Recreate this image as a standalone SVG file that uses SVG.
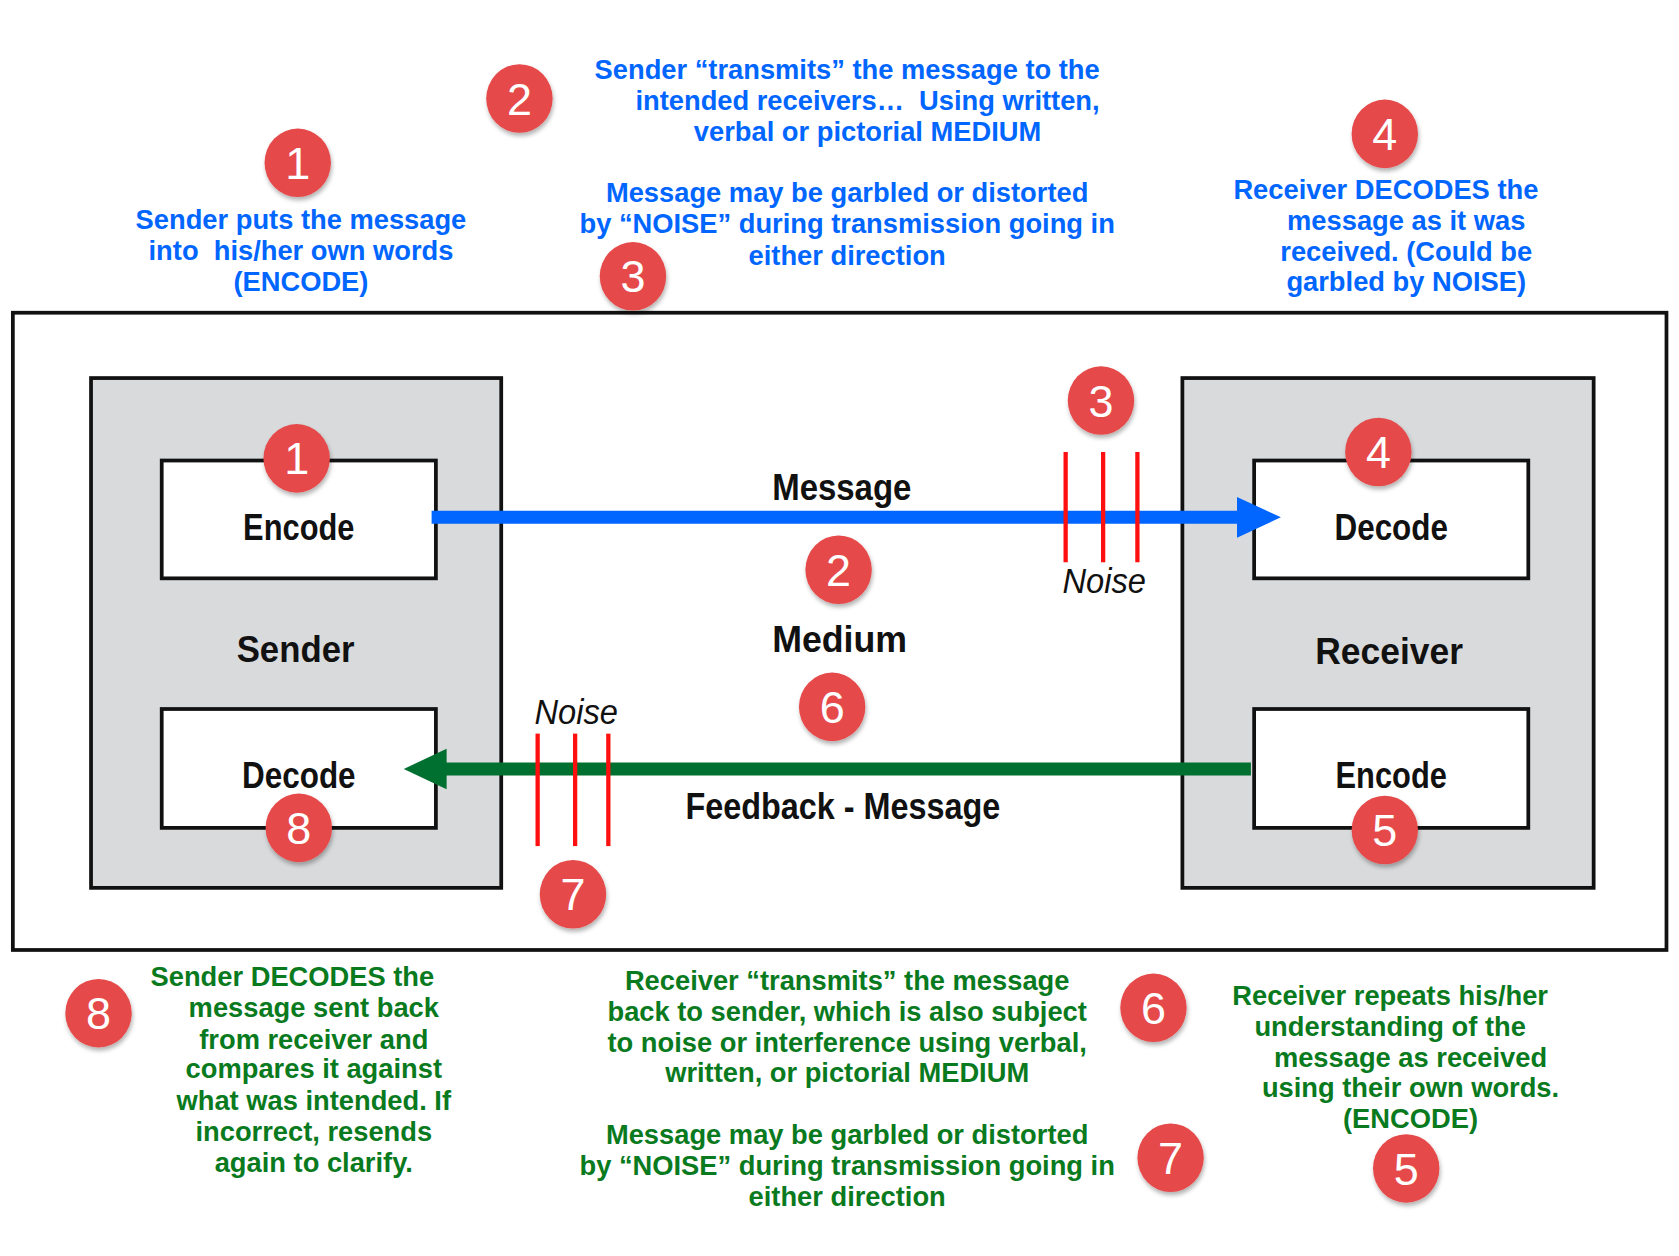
<svg xmlns="http://www.w3.org/2000/svg" width="1679" height="1256" viewBox="0 0 1679 1256">
<style>
.box{stroke:#111;stroke-width:3.5}
.lbl{font-family:"Liberation Sans",Arial,sans-serif;font-weight:bold;font-size:34px;fill:#111;text-anchor:middle}
.noise{font-family:"Liberation Sans",Arial,sans-serif;font-style:italic;font-size:32px;fill:#111;text-anchor:middle}
.b{font-family:"Liberation Sans",Arial,sans-serif;font-weight:bold;font-size:25.5px;fill:#0066ff;text-anchor:middle}
.g{font-family:"Liberation Sans",Arial,sans-serif;font-weight:bold;font-size:25.5px;fill:#0a7a1e;text-anchor:middle}
.c text{font-family:"Liberation Sans",Arial,sans-serif;font-size:42px;fill:#fff;text-anchor:middle}
.r{stroke:#ff1010;stroke-width:4}
</style>
<defs>
<filter id="sh" x="-30%" y="-30%" width="160%" height="160%"><feDropShadow dx="1" dy="3" stdDeviation="2" flood-color="#000" flood-opacity="0.3"/></filter>
<ellipse id="circ" cx="0" cy="0" rx="31" ry="32" fill="#e54848" filter="url(#sh)"/>
</defs>
<rect width="1679" height="1256" fill="#fff"/>
<g transform="scale(1.071,1.071)">
<rect id="outer" x="12" y="292" width="1544" height="595" fill="#fff" class="box"/>
<g id="sender"><rect x="85" y="353" width="383" height="476" fill="#d9dadc" class="box"/><text class="lbl" x="276" y="618" textLength="110" lengthAdjust="spacingAndGlyphs">Sender</text></g>
<g id="sender-encode"><rect x="151" y="430" width="256" height="110" fill="#fff" class="box"/><text class="lbl" x="279" y="504" textLength="104" lengthAdjust="spacingAndGlyphs">Encode</text></g>
<g id="sender-decode"><rect x="151" y="662" width="256" height="111" fill="#fff" class="box"/><text class="lbl" x="279" y="736" textLength="106" lengthAdjust="spacingAndGlyphs">Decode</text></g>
<g id="receiver"><rect x="1104" y="353" width="384" height="476" fill="#d9dadc" class="box"/><text class="lbl" x="1297" y="620" textLength="138" lengthAdjust="spacingAndGlyphs">Receiver</text></g>
<g id="receiver-decode"><rect x="1171" y="430" width="256" height="110" fill="#fff" class="box"/><text class="lbl" x="1299" y="504" textLength="106" lengthAdjust="spacingAndGlyphs">Decode</text></g>
<g id="receiver-encode"><rect x="1171" y="662" width="256" height="111" fill="#fff" class="box"/><text class="lbl" x="1299" y="736" textLength="104" lengthAdjust="spacingAndGlyphs">Encode</text></g>
<g id="connectors">
<line x1="403" y1="483" x2="1160" y2="483" stroke="#0066ff" stroke-width="12"/>
<polygon points="1155,464 1196,483 1155,502" fill="#0066ff"/>
<line x1="1168" y1="718" x2="412" y2="718" stroke="#007030" stroke-width="12"/>
<polygon points="417,699 377,718 417,737" fill="#007030"/>
</g>
<text class="lbl" x="786" y="467" textLength="130" lengthAdjust="spacingAndGlyphs">Message</text>
<text class="lbl" x="784" y="609" textLength="126" lengthAdjust="spacingAndGlyphs">Medium</text>
<text class="lbl" x="787" y="765" textLength="294" lengthAdjust="spacingAndGlyphs">Feedback - Message</text>
<g id="noise1"><line class="r" x1="995" y1="422" x2="995" y2="525"/><line class="r" x1="1030" y1="422" x2="1030" y2="525"/><line class="r" x1="1062" y1="422" x2="1062" y2="525"/><text class="noise" x="1031" y="554" textLength="78" lengthAdjust="spacingAndGlyphs">Noise</text></g>
<g id="noise2"><line class="r" x1="502" y1="685" x2="502" y2="790"/><line class="r" x1="537" y1="685" x2="537" y2="790"/><line class="r" x1="568" y1="685" x2="568" y2="790"/><text class="noise" x="538" y="676" textLength="78" lengthAdjust="spacingAndGlyphs">Noise</text></g>
<g class="c">
<g transform="translate(278,152)"><use href="#circ"/><text y="15">1</text></g>
<g transform="translate(485,92)"><use href="#circ"/><text y="15">2</text></g>
<g transform="translate(591,258)"><use href="#circ"/><text y="15">3</text></g>
<g transform="translate(1293,125)"><use href="#circ"/><text y="15">4</text></g>
<g transform="translate(277,428)"><use href="#circ"/><text y="15">1</text></g>
<g transform="translate(1028,374)"><use href="#circ"/><text y="15">3</text></g>
<g transform="translate(1287,422)"><use href="#circ"/><text y="15">4</text></g>
<g transform="translate(783,532)"><use href="#circ"/><text y="15">2</text></g>
<g transform="translate(777,660)"><use href="#circ"/><text y="15">6</text></g>
<g transform="translate(279,773)"><use href="#circ"/><text y="15">8</text></g>
<g transform="translate(1293,775)"><use href="#circ"/><text y="15">5</text></g>
<g transform="translate(535,835)"><use href="#circ"/><text y="15">7</text></g>
<g transform="translate(92,946)"><use href="#circ"/><text y="15">8</text></g>
<g transform="translate(1077,941)"><use href="#circ"/><text y="15">6</text></g>
<g transform="translate(1093,1081)"><use href="#circ"/><text y="15">7</text></g>
<g transform="translate(1313,1091)"><use href="#circ"/><text y="15">5</text></g>
</g>
<text class="b" x="281" y="214">Sender puts the message</text>
<text class="b" x="281" y="243" xml:space="preserve">into  his/her own words</text>
<text class="b" x="281" y="272">(ENCODE)</text>
<text class="b" x="791" y="74">Sender “transmits” the message to the</text>
<text class="b" x="810" y="103" xml:space="preserve">intended receivers…  Using written,</text>
<text class="b" x="810" y="132">verbal or pictorial MEDIUM</text>
<text class="b" x="791" y="189">Message may be garbled or distorted</text>
<text class="b" x="791" y="218">by “NOISE” during transmission going in</text>
<text class="b" x="791" y="247">either direction</text>
<text class="b" x="1294" y="186">Receiver DECODES the</text>
<text class="b" x="1313" y="215">message as it was</text>
<text class="b" x="1313" y="244">received. (Could be</text>
<text class="b" x="1313" y="272">garbled by NOISE)</text>
<text class="g" x="273" y="921">Sender DECODES the</text>
<text class="g" x="293" y="950">message sent back</text>
<text class="g" x="293" y="979">from receiver and</text>
<text class="g" x="293" y="1007">compares it against</text>
<text class="g" x="293" y="1036">what was intended. If</text>
<text class="g" x="293" y="1065">incorrect, resends</text>
<text class="g" x="293" y="1094">again to clarify.</text>
<text class="g" x="791" y="924">Receiver “transmits” the message</text>
<text class="g" x="791" y="953">back to sender, which is also subject</text>
<text class="g" x="791" y="982">to noise or interference using verbal,</text>
<text class="g" x="791" y="1010">written, or pictorial MEDIUM</text>
<text class="g" x="791" y="1068">Message may be garbled or distorted</text>
<text class="g" x="791" y="1097">by “NOISE” during transmission going in</text>
<text class="g" x="791" y="1126">either direction</text>
<text class="g" x="1298" y="938">Receiver repeats his/her</text>
<text class="g" x="1298" y="967">understanding of the</text>
<text class="g" x="1317" y="996">message as received</text>
<text class="g" x="1317" y="1024">using their own words.</text>
<text class="g" x="1317" y="1053">(ENCODE)</text>
</g>
</svg>
